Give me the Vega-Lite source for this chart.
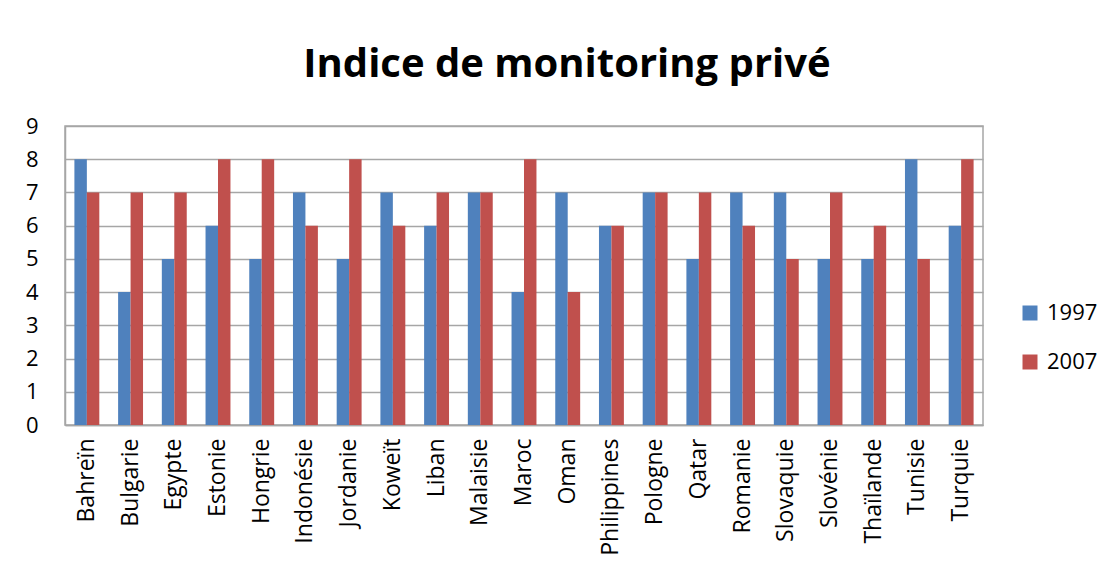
{
  "$schema": "https://vega.github.io/schema/vega-lite/v6.json",
  "width": 918,
  "height": 299,
  "autosize": {"type": "none"},
  "padding": {"left": 65, "top": 126, "right": 129, "bottom": 145},
  "background": "white",
  "title": {
    "text": "Indice de monitoring privé",
    "font": "Open Sans",
    "fontSize": 40,
    "fontWeight": "bold",
    "color": "#000000",
    "anchor": "middle",
    "dx": 43,
    "offset": 30
  },
  "data": {
    "values": [
      {"pays": "Bahreïn", "annee": "1997", "valeur": 8},
      {"pays": "Bahreïn", "annee": "2007", "valeur": 7},
      {"pays": "Bulgarie", "annee": "1997", "valeur": 4},
      {"pays": "Bulgarie", "annee": "2007", "valeur": 7},
      {"pays": "Egypte", "annee": "1997", "valeur": 5},
      {"pays": "Egypte", "annee": "2007", "valeur": 7},
      {"pays": "Estonie", "annee": "1997", "valeur": 6},
      {"pays": "Estonie", "annee": "2007", "valeur": 8},
      {"pays": "Hongrie", "annee": "1997", "valeur": 5},
      {"pays": "Hongrie", "annee": "2007", "valeur": 8},
      {"pays": "Indonésie", "annee": "1997", "valeur": 7},
      {"pays": "Indonésie", "annee": "2007", "valeur": 6},
      {"pays": "Jordanie", "annee": "1997", "valeur": 5},
      {"pays": "Jordanie", "annee": "2007", "valeur": 8},
      {"pays": "Koweït", "annee": "1997", "valeur": 7},
      {"pays": "Koweït", "annee": "2007", "valeur": 6},
      {"pays": "Liban", "annee": "1997", "valeur": 6},
      {"pays": "Liban", "annee": "2007", "valeur": 7},
      {"pays": "Malaisie", "annee": "1997", "valeur": 7},
      {"pays": "Malaisie", "annee": "2007", "valeur": 7},
      {"pays": "Maroc", "annee": "1997", "valeur": 4},
      {"pays": "Maroc", "annee": "2007", "valeur": 8},
      {"pays": "Oman", "annee": "1997", "valeur": 7},
      {"pays": "Oman", "annee": "2007", "valeur": 4},
      {"pays": "Philippines", "annee": "1997", "valeur": 6},
      {"pays": "Philippines", "annee": "2007", "valeur": 6},
      {"pays": "Pologne", "annee": "1997", "valeur": 7},
      {"pays": "Pologne", "annee": "2007", "valeur": 7},
      {"pays": "Qatar", "annee": "1997", "valeur": 5},
      {"pays": "Qatar", "annee": "2007", "valeur": 7},
      {"pays": "Romanie", "annee": "1997", "valeur": 7},
      {"pays": "Romanie", "annee": "2007", "valeur": 6},
      {"pays": "Slovaquie", "annee": "1997", "valeur": 7},
      {"pays": "Slovaquie", "annee": "2007", "valeur": 5},
      {"pays": "Slovénie", "annee": "1997", "valeur": 5},
      {"pays": "Slovénie", "annee": "2007", "valeur": 7},
      {"pays": "Thaïlande", "annee": "1997", "valeur": 5},
      {"pays": "Thaïlande", "annee": "2007", "valeur": 6},
      {"pays": "Tunisie", "annee": "1997", "valeur": 8},
      {"pays": "Tunisie", "annee": "2007", "valeur": 5},
      {"pays": "Turquie", "annee": "1997", "valeur": 6},
      {"pays": "Turquie", "annee": "2007", "valeur": 8}
    ]
  },
  "mark": {"type": "bar"},
  "encoding": {
    "x": {
      "field": "pays",
      "type": "nominal",
      "sort": null,
      "scale": {"paddingInner": 0.43, "paddingOuter": 0.215},
      "axis": {
        "title": null,
        "labelAngle": -90,
        "labelFont": "Open Sans",
        "labelFontSize": 23,
        "labelColor": "#000000",
        "labelPadding": 13,
        "ticks": false,
        "domain": true,
        "domainColor": "#A6A6A6",
        "domainWidth": 1.5
      }
    },
    "xOffset": {"field": "annee", "type": "nominal", "sort": ["1997", "2007"]},
    "y": {
      "field": "valeur",
      "type": "quantitative",
      "scale": {"domain": [0, 9], "nice": false},
      "axis": {
        "title": null,
        "values": [0, 1, 2, 3, 4, 5, 6, 7, 8, 9],
        "labelFont": "Open Sans",
        "labelFontSize": 22,
        "labelColor": "#000000",
        "labelPadding": 27,
        "ticks": false,
        "domain": true,
        "domainColor": "#A6A6A6",
        "domainWidth": 1.5,
        "grid": true,
        "gridColor": "#A6A6A6",
        "gridWidth": 1.5
      }
    },
    "color": {
      "field": "annee",
      "type": "nominal",
      "scale": {"domain": ["1997", "2007"], "range": ["#4F81BD", "#C0504D"]},
      "legend": {
        "title": null,
        "orient": "none",
        "legendX": 954,
        "legendY": 176,
        "symbolType": "square",
        "symbolSize": 225,
        "symbolStrokeWidth": 0,
        "labelFont": "Open Sans",
        "labelFontSize": 22,
        "labelColor": "#000000",
        "rowPadding": 27,
        "labelOffset": 6
      }
    }
  },
  "config": {
    "view": {"stroke": "#A6A6A6", "strokeWidth": 1.5}
  }
}
